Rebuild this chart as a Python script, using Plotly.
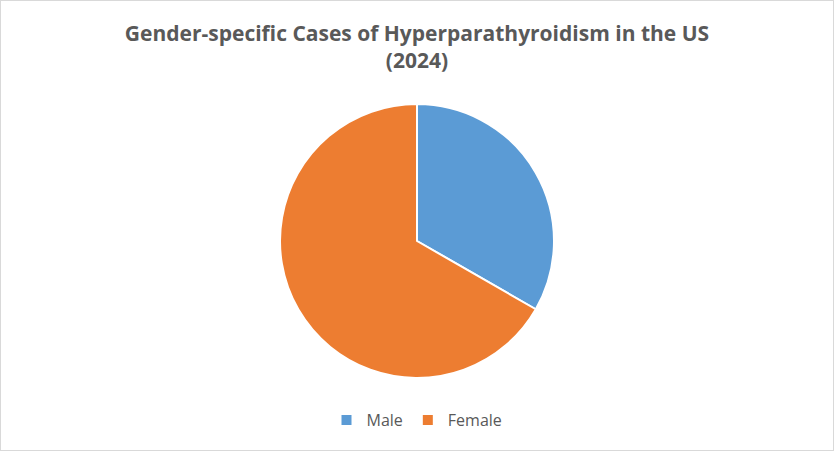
import plotly.graph_objects as go

# share of cases by gender (male slice ~ 120 degrees)
genders = ["Male", "Female"]
shares = [33.3, 66.7]
slice_colors = ["#5B9BD5", "#ED7D31"]

W, H = 834, 451

fig = go.Figure()
fig.add_trace(go.Pie(
    labels=genders,
    values=shares,
    sort=False,
    direction="clockwise",
    rotation=0,
    textinfo="none",
    hoverinfo="label+percent",
    marker=dict(colors=slice_colors, line=dict(color="white", width=2)),
    domain=dict(x=[280 / W, 554 / W], y=[(H - 378) / H, (H - 104) / H]),
))

fig.update_layout(
    width=W,
    height=H,
    margin=dict(l=0, r=0, t=0, b=0),
    paper_bgcolor="white",
    plot_bgcolor="white",
    font=dict(family="Open Sans", color="#595959"),
    title=dict(
        text="<b>Gender-specific Cases of Hyperparathyroidism in the US<br>(2024)</b>",
        x=0.5,
        xanchor="center",
        y=1 - 41 / H,
        yanchor="top",
        font=dict(family="Open Sans", size=21, color="#595959"),
    ),
    legend=dict(
        orientation="h",
        x=0.5,
        xanchor="center",
        y=1 - 420 / H,
        yanchor="middle",
        font=dict(family="Open Sans", size=16, color="#595959"),
        itemsizing="constant",
    ),
    shapes=[dict(
        type="rect", xref="paper", yref="paper",
        x0=0, y0=0, x1=1, y1=1,
        line=dict(color="#D9D9D9", width=2),
    )],
)

# page body has an 8px default margin, drop it so the chart fills the window
fig.write_html(
    "out.html",
    config={"displayModeBar": False},
    post_script="document.body.style.margin='0';",
)
